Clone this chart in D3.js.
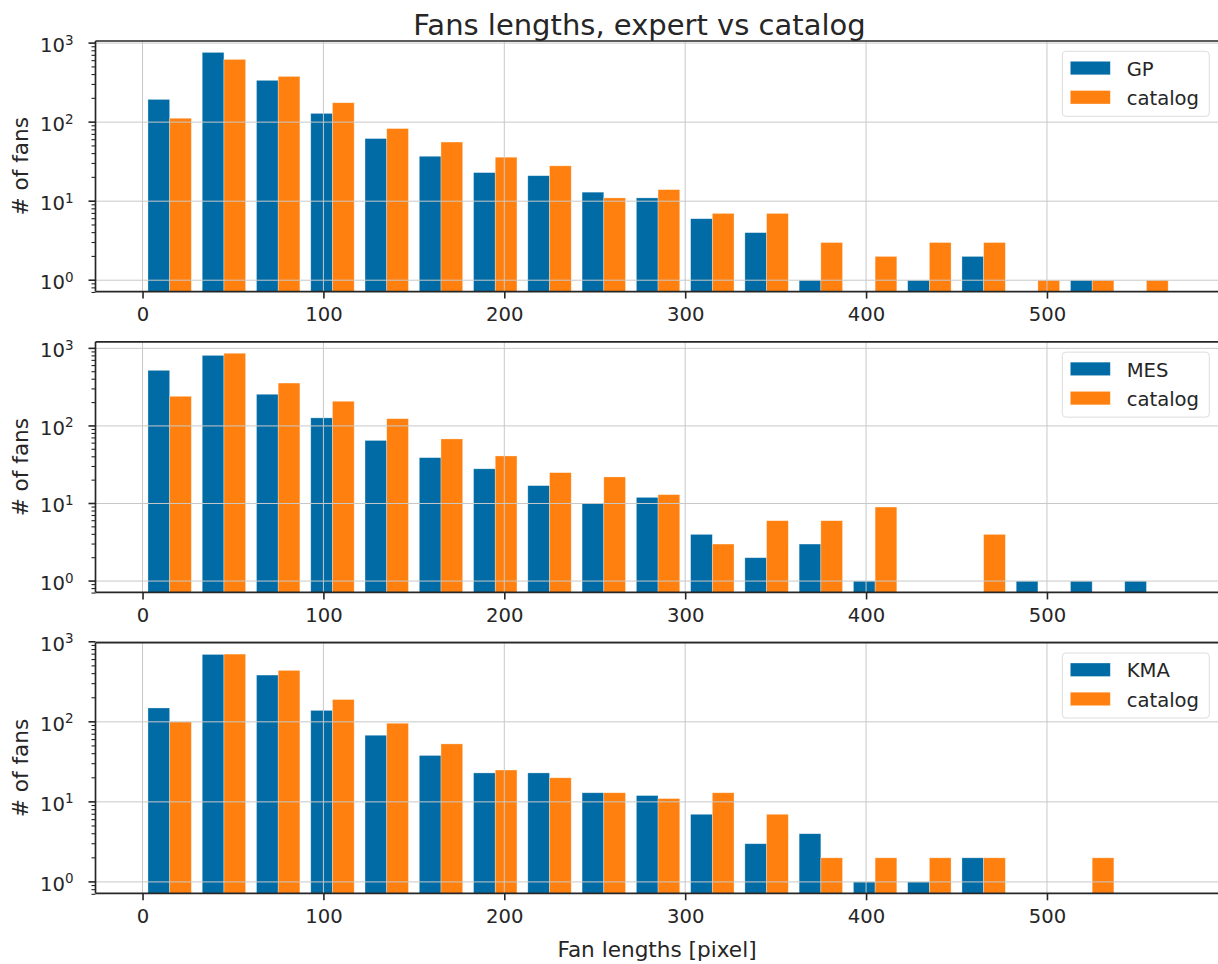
<!DOCTYPE html>
<html>
<head>
<meta charset="utf-8">
<title>Fans lengths, expert vs catalog</title>
<script src="https://cdn.jsdelivr.net/npm/d3@7"></script>
<style>
  body { margin: 0; background: #fff; }
  svg { display: block; }
  text { font-family: "DejaVu Sans", sans-serif; fill: #262626; }
</style>
</head>
<body>
<svg id="chart" width="1218" height="964"></svg>
<script>
// Histogram bins of fan length (pixels): left edge of each 30 px bin
const binWidth = 30;
const binStarts = [0, 30, 60, 90, 120, 150, 180, 210, 240, 270, 300, 330, 360, 390, 420, 450, 480, 510, 540];
const xTickValues = [0, 100, 200, 300, 400, 500];
const yTickValues = [1, 10, 100, 1000];

// Number of fans per bin, expert annotation vs catalog
const expertNames = ["GP", "MES", "KMA"];
const gpCounts      = [194, 763, 338, 129, 62, 37, 23, 21, 13, 11, 6, 4, 1, 0, 1, 2, 0, 1, 0];
const gpCatalog     = [112, 622, 379, 176, 83, 56, 36, 28, 11, 14, 7, 7, 3, 2, 3, 3, 1, 1, 1];
const mesCounts     = [521, 812, 256, 127, 65, 39, 28, 17, 10, 12, 4, 2, 3, 1, 0, 0, 1, 1, 1];
const mesCatalog    = [241, 865, 357, 208, 124, 68, 41, 25, 22, 13, 3, 6, 6, 9, 0, 4, 0, 0, 0];
const kmaCounts     = [149, 695, 384, 139, 68, 38, 23, 23, 13, 12, 7, 3, 4, 1, 1, 2, 0, 0, 0];
const kmaCatalog    = [100, 702, 439, 190, 96, 53, 25, 20, 13, 11, 13, 7, 2, 2, 2, 2, 0, 2, 0];

const panels = [
  { name: expertNames[0], expert: gpCounts,  catalog: gpCatalog },
  { name: expertNames[1], expert: mesCounts, catalog: mesCatalog },
  { name: expertNames[2], expert: kmaCounts, catalog: kmaCatalog }
];

const colors = { expert: "#006BA4", catalog: "#FF800E" };
const ink = "#262626";
const gridColor = "#c8c8c8";

const svg = d3.select("#chart");

// Geometry of the three stacked axes
const left = 95.5, right = 1218.8;
const firstTop = 41, panelStep = 300.85, panelHeight = 250.6;

const x = d3.scaleLinear().domain([-26, 595]).range([left, right]);

panels.forEach((p, i) => {
  const top = firstTop + i * panelStep;
  const bottom = top + panelHeight;

  // log-scale limits padded by 5% of the data's log range
  const maxCount = d3.max(p.expert.concat(p.catalog));
  const R = Math.log10(maxCount);
  const y = d3.scaleLog()
    .domain([Math.pow(10, -0.05 * R), Math.pow(10, 1.05 * R)])
    .range([bottom, top]);

  // a tick counts as visible when it lies inside the axes or within a pixel and a half of an edge
  const visible = v => y(v) <= bottom + 1.5 && y(v) >= top - 1.5;

  const g = svg.append("g");

  // bars: each bin holds two side-by-side bars filling 80% of the bin
  const series = [
    { key: "expert", values: p.expert, offset: 0.1 },
    { key: "catalog", values: p.catalog, offset: 0.5 }
  ];
  series.forEach(s => {
    g.append("g").selectAll("rect")
      .data(binStarts.map((b, j) => ({ b, v: s.values[j] })).filter(d => d.v > 0))
      .join("rect")
      .attr("x", d => x(d.b + s.offset * binWidth))
      .attr("width", d => x(d.b + (s.offset + 0.4) * binWidth) - x(d.b + s.offset * binWidth))
      .attr("y", d => y(d.v))
      .attr("height", d => bottom - y(d.v))
      .attr("fill", colors[s.key])
      .attr("stroke", "#ffffff")
      .attr("stroke-opacity", 0.45)
      .attr("stroke-width", 0.7);
  });

  // grid lines
  const majors = yTickValues.filter(visible);
  const grid = g.append("g").attr("stroke", gridColor).attr("stroke-width", 1);
  grid.selectAll(".gx").data(xTickValues).join("line")
    .attr("x1", d => x(d)).attr("x2", d => x(d))
    .attr("y1", top).attr("y2", bottom);
  grid.selectAll(".gy").data(majors).join("line")
    .attr("x1", left).attr("x2", right)
    .attr("y1", d => y(d)).attr("y2", d => y(d));

  // x axis
  const xAxis = g.append("g")
    .attr("transform", `translate(0,${bottom})`)
    .call(d3.axisBottom(x).tickValues(xTickValues).tickSize(7).tickPadding(8.5).tickSizeOuter(0));
  xAxis.select(".domain").remove();
  xAxis.selectAll(".tick line").attr("stroke", ink).attr("stroke-width", 1.6);
  xAxis.selectAll(".tick text")
    .attr("font-family", "DejaVu Sans").attr("font-size", 19.6).attr("fill", ink)
    .attr("dy", "0.71em").attr("y", 15.3);

  // y axis: major decades with minor ticks between
  const minor = [];
  for (let e = -1; e <= 4; e++) {
    for (let k = 2; k <= 9; k++) {
      const v = k * Math.pow(10, e);
      if (visible(v)) minor.push(v);
    }
  }
  const yAxis = g.append("g");
  yAxis.selectAll(".minor").data(minor).join("line")
    .attr("x1", left - 4).attr("x2", left)
    .attr("y1", d => y(d)).attr("y2", d => y(d))
    .attr("stroke", ink).attr("stroke-width", 1.1);
  yAxis.selectAll(".major").data(majors).join("line")
    .attr("x1", left - 7).attr("x2", left)
    .attr("y1", d => y(d)).attr("y2", d => y(d))
    .attr("stroke", ink).attr("stroke-width", 1.6);
  const labels = yAxis.selectAll(".lab").data(majors).join("text")
    .attr("x", 73.5)
    .attr("y", d => y(d) + 9)
    .attr("text-anchor", "end")
    .attr("font-size", 19.6);
  labels.append("tspan").text("10");
  labels.append("tspan")
    .attr("font-size", 13.5)
    .attr("dy", -7.5)
    .text(d => Math.round(Math.log10(d)));

  // spines: left, top, bottom
  const spine = g.append("g").attr("stroke", ink).attr("stroke-width", 1.7).attr("fill", "none");
  spine.append("line").attr("x1", left).attr("x2", left).attr("y1", top).attr("y2", bottom);
  spine.append("line").attr("x1", left).attr("x2", right).attr("y1", top).attr("y2", top);
  spine.append("line").attr("x1", left).attr("x2", right).attr("y1", bottom).attr("y2", bottom);

  // y label
  g.append("text")
    .attr("transform", `translate(28.3,${(top + bottom) / 2}) rotate(-90)`)
    .attr("text-anchor", "middle")
    .attr("font-size", 21.6)
    .text("# of fans");

  // legend
  const lg = g.append("g").attr("transform", `translate(1062.3,${top + 10.3})`);
  lg.append("rect")
    .attr("width", 147).attr("height", 65).attr("rx", 3.5)
    .attr("fill", "#ffffff").attr("fill-opacity", 0.8)
    .attr("stroke", "#dddddd").attr("stroke-width", 1);
  const entries = [
    { label: p.name, color: colors.expert },
    { label: "catalog", color: colors.catalog }
  ];
  entries.forEach((e, k) => {
    lg.append("rect")
      .attr("x", 8).attr("y", 10 + k * 29.2)
      .attr("width", 40).attr("height", 13.5)
      .attr("fill", e.color)
      .attr("stroke", "#ffffff").attr("stroke-opacity", 0.45).attr("stroke-width", 0.7);
    lg.append("text")
      .attr("x", 64.4).attr("y", 24.4 + k * 29.2)
      .attr("font-size", 19.6)
      .text(e.label);
  });
});

// figure title and shared x label
svg.append("text")
  .attr("x", 639.5).attr("y", 35)
  .attr("text-anchor", "middle")
  .attr("font-size", 29)
  .text("Fans lengths, expert vs catalog");

svg.append("text")
  .attr("x", 657).attr("y", 957)
  .attr("text-anchor", "middle")
  .attr("font-size", 21.6)
  .text("Fan lengths [pixel]");
</script>
</body>
</html>
